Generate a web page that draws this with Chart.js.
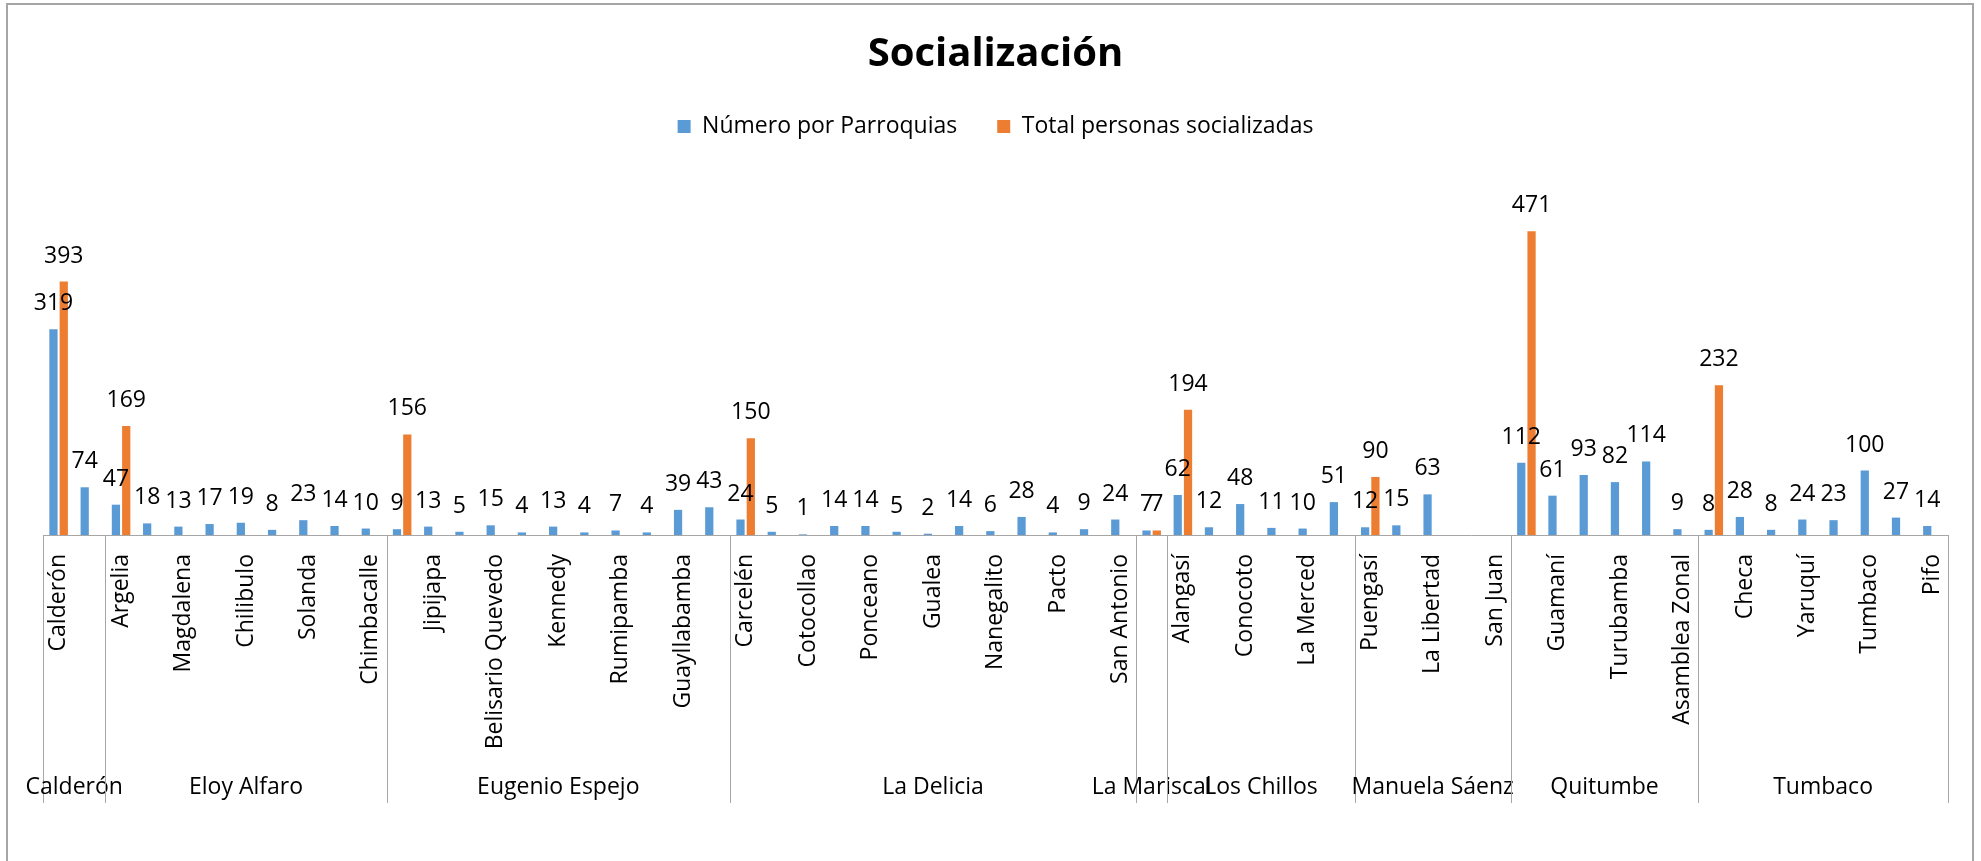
<!DOCTYPE html>
<html>
<head>
<meta charset="utf-8">
<title>Socialización</title>
<script src="https://cdn.jsdelivr.net/npm/chart.js@4/dist/chart.umd.min.js"></script>
<style>
    html, body { margin: 0; padding: 0; background: #fff; }
    canvas { display: block; }
</style>
</head>
<body>
<canvas id="chart" width="1981" height="861"></canvas>
<script>
const parroquias = [
    'Calderón', 'Llano Chico',
    'Argelia', 'La Ferroviaria', 'Magdalena', 'La Mena', 'Chilibulo', 'Lloa', 'Solanda', 'San Bartolo', 'Chimbacalle',
    'Cochapamba', 'Jipijapa', 'Concepción', 'Belisario Quevedo', 'Iñaquito', 'Kennedy', 'San Isidro del Inca', 'Rumipamba', 'Nayón', 'Guayllabamba', 'Zámbiza',
    'Carcelén', 'Comité del Pueblo', 'Cotocollao', 'El Condado', 'Ponceano', 'Calacalí', 'Gualea', 'Nanegal', 'Nanegalito', 'Pomasqui', 'Pacto', 'Nono', 'San Antonio',
    'Mariscal Sucre',
    'Alangasí', 'Amaguaña', 'Conocoto', 'Guangopolo', 'La Merced', 'Píntag',
    'Puengasí', 'Itchimbía', 'La Libertad', 'Centro Histórico', 'San Juan',
    'Chillogallo', 'Guamaní', 'La Ecuatoriana', 'Turubamba', 'Quitumbe', 'Asamblea Zonal',
    'Cumbayá', 'Checa', 'El Quinche', 'Yaruquí', 'Puembo', 'Tumbaco', 'Tababela', 'Pifo'
]

const zonas = ['Calderón', 'Eloy Alfaro', 'Eugenio Espejo', 'La Delicia', 'La Mariscal', 'Los Chillos', 'Manuela Sáenz', 'Quitumbe', 'Tumbaco']
const parroquiasPorZona = [2, 9, 11, 13, 1, 6, 5, 6, 8]

const numeroParroquias = [
    319, 74,
    47, 18, 13, 17, 19, 8, 23, 14, 10,
    9, 13, 5, 15, 4, 13, 4, 7, 4, 39, 43,
    24, 5, 1, 14, 14, 5, 2, 14, 6, 28, 4, 9, 24,
    7,
    62, 12, 48, 11, 10, 51,
    12, 15, 63, null, null,
    112, 61, 93, 82, 114, 9,
    8, 28, 8, 24, 23, 100, 27, 14
]

const totalSocializadas = [
    393, null,
    169, null, null, null, null, null, null, null, null,
    156, null, null, null, null, null, null, null, null, null, null,
    150, null, null, null, null, null, null, null, null, null, null, null, null,
    7,
    194, null, null, null, null, null,
    90, null, null, null, null,
    471, null, null, null, null, null,
    232, null, null, null, null, null, null, null
]

const FONT = 'Open Sans'

// etiquetas de valor encima de cada barra
const valueLabels = {
    id: 'valueLabels',
    afterDatasetsDraw(chart) {
        const ctx = chart.ctx
        ctx.save()
        ctx.font = `23px "${FONT}"`
        ctx.fillStyle = '#000'
        ctx.textAlign = 'center'
        ctx.textBaseline = 'alphabetic'
        chart.data.datasets.forEach((ds, i) => {
            const meta = chart.getDatasetMeta(i)
            meta.data.forEach((bar, j) => {
                const v = ds.data[j]
                if (v === null || v === undefined) return
                ctx.fillText(String(v), bar.x, bar.y - 19)
            })
        })
        ctx.restore()
    }
}

// marco, eje y segundo nivel de categorías (zonas)
const zonasAxis = {
    id: 'zonasAxis',
    beforeDraw(chart) {
        const ctx = chart.ctx
        ctx.save()
        ctx.fillStyle = '#fff'
        ctx.fillRect(0, 0, chart.width, chart.height)
        ctx.strokeStyle = '#a6a6a6'
        ctx.lineWidth = 2
        ctx.strokeRect(7, 4, 1966, 880)
        ctx.restore()
    },
    afterDraw(chart) {
        const ctx = chart.ctx
        const x = chart.scales.x
        const bottom = chart.chartArea.bottom
        const half = (x.getPixelForValue(1) - x.getPixelForValue(0)) / 2
        ctx.save()
        ctx.strokeStyle = '#a6a6a6'
        ctx.lineWidth = 1
        ctx.beginPath()
        ctx.moveTo(x.left, bottom + 0.5)
        ctx.lineTo(x.right, bottom + 0.5)
        ctx.stroke()

        ctx.font = `23px "${FONT}"`
        ctx.fillStyle = '#000'
        ctx.textAlign = 'center'
        ctx.textBaseline = 'middle'
        let start = 0
        zonas.forEach((zona, k) => {
            const n = parroquiasPorZona[k]
            const left = x.getPixelForValue(start) - half
            const right = x.getPixelForValue(start + n - 1) + half
            ctx.beginPath()
            ctx.moveTo(Math.round(left) + 0.5, bottom)
            ctx.lineTo(Math.round(left) + 0.5, 803)
            if (k === zonas.length - 1) {
                ctx.moveTo(Math.round(right) + 0.5, bottom)
                ctx.lineTo(Math.round(right) + 0.5, 803)
            }
            ctx.stroke()
            ctx.fillText(zona, (left + right) / 2, 787)
            start += n
        })
        ctx.restore()
    }
}

const chart = new Chart(document.getElementById('chart'), {
    type: 'bar',
    data: {
        labels: parroquias,
        datasets: [
            {
                label: 'Número por Parroquias',
                data: numeroParroquias,
                backgroundColor: '#5B9BD5',
                borderWidth: 0
            },
            {
                label: 'Total personas socializadas',
                data: totalSocializadas,
                backgroundColor: '#ED7D31',
                borderWidth: 0
            }
        ]
    },
    options: {
        responsive: false,
        animation: false,
        devicePixelRatio: 1,
        categoryPercentage: 0.66,
        barPercentage: 0.8,
        layout: {
            padding: { top: 8, left: 43, right: 33, bottom: 0 }
        },
        plugins: {
            title: {
                display: true,
                text: 'Socialización',
                color: '#000',
                font: { family: FONT, size: 40, weight: 'bold', lineHeight: 1 },
                padding: { top: 27, bottom: 0 }
            },
            legend: {
                position: 'top',
                labels: {
                    color: '#000',
                    font: { family: FONT, size: 23 },
                    boxWidth: 13,
                    boxHeight: 13,
                    padding: 40
                }
            },
            tooltip: { enabled: false }
        },
        scales: {
            x: {
                grid: { display: false, drawTicks: false },
                border: { display: false },
                ticks: {
                    autoSkip: false,
                    minRotation: 90,
                    maxRotation: 90,
                    padding: 19,
                    color: '#000',
                    font: { family: FONT, size: 23 },
                    callback: (value, index) => index % 2 === 0 ? parroquias[index] : ''
                },
                afterFit: scale => { scale.height = 326 }
            },
            y: {
                display: false,
                min: 0,
                max: 600
            }
        }
    },
    plugins: [zonasAxis, valueLabels]
})
</script>
</body>
</html>
